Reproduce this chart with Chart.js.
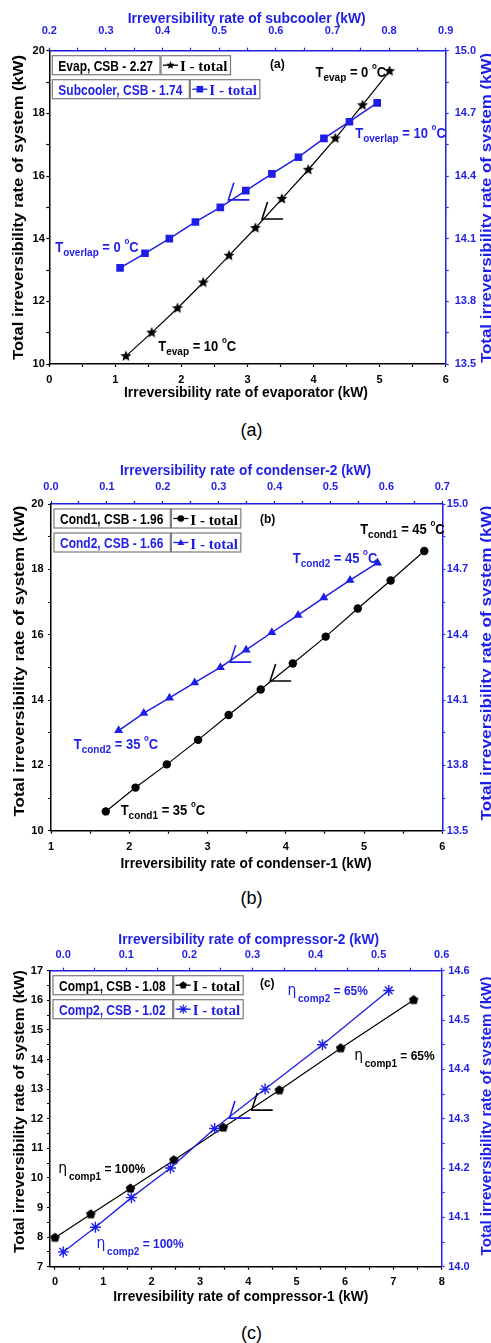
<!DOCTYPE html>
<html>
<head>
<meta charset="utf-8">
<script src="https://cdn.jsdelivr.net/npm/chart.js"></script>
<style>
body { margin: 0; background: #fff; }
#page { position: relative; width: 491px; height: 1343px; overflow: hidden; background: #fff; }
canvas { position: absolute; left: 0; }
.cap { position: absolute; left: 0; width: 503px; text-align: center; line-height: 20px;
       font: 18px 'Liberation Sans', Arial, sans-serif; color: #000; }
</style>
</head>
<body>
<div id="page">
  <canvas id="ca" width="491" height="410" style="top:0px"></canvas>
  <div class="cap" style="top:420px">(a)</div>
  <canvas id="cb" width="491" height="430" style="top:445px"></canvas>
  <div class="cap" style="top:888px">(b)</div>
  <canvas id="cc" width="491" height="410" style="top:905px"></canvas>
  <div class="cap" style="top:1323px">(c)</div>
</div>
<script>
const BLUE = '#1e1ee6';
const SANS = "'Liberation Sans', Arial, sans-serif";
const SERIF = "'Liberation Serif', 'Times New Roman', serif";
const SYM = "'DejaVu Sans', sans-serif";

// ---- (a) evaporator (bottom/left axes) and subcooler (top/right axes)
const evapX = [1.16, 1.55, 1.94, 2.33, 2.72, 3.12, 3.52, 3.92, 4.33, 4.74, 5.15];
const evapY = [10.25, 11.00, 11.78, 12.60, 13.46, 14.34, 15.27, 16.20, 17.20, 18.26, 19.35];
const subX = [0.325, 0.369, 0.412, 0.458, 0.502, 0.547, 0.593, 0.640, 0.685, 0.730, 0.779];
const subY = [13.96, 14.03, 14.10, 14.18, 14.25, 14.33, 14.41, 14.49, 14.58, 14.66, 14.75];

// ---- (b) condenser-1 and condenser-2
const cond1X = [1.70, 2.08, 2.48, 2.88, 3.27, 3.68, 4.09, 4.51, 4.92, 5.34, 5.77];
const cond1Y = [10.59, 11.32, 12.03, 12.78, 13.54, 14.32, 15.12, 15.94, 16.80, 17.66, 18.56];
const cond2X = [0.121, 0.166, 0.212, 0.257, 0.303, 0.349, 0.395, 0.442, 0.488, 0.535, 0.584];
const cond2Y = [13.96, 14.04, 14.11, 14.18, 14.25, 14.33, 14.41, 14.49, 14.57, 14.65, 14.73];

// ---- (c) compressor-1 and compressor-2
const comp1X = [0.0, 0.74, 1.56, 2.46, 3.48, 4.64, 5.91, 7.42];
const comp1Y = [7.98, 8.77, 9.64, 10.60, 11.70, 12.96, 14.38, 16.01];
const comp2X = [0.0, 0.051, 0.108, 0.170, 0.240, 0.320, 0.411, 0.516];
const comp2Y = [14.03, 14.08, 14.14, 14.20, 14.28, 14.36, 14.45, 14.56];

// labelled ticks (a minor tick sits half way between two of them)
const aBottomTicks = [0, 1, 2, 3, 4, 5, 6];
const aTopTicks = [0.2, 0.3, 0.4, 0.5, 0.6, 0.7, 0.8, 0.9];
const aLeftTicks = [10, 12, 14, 16, 18, 20];
const aRightTicks = [13.5, 13.8, 14.1, 14.4, 14.7, 15.0];
const bBottomTicks = [1, 2, 3, 4, 5, 6];
const bTopTicks = [0.0, 0.1, 0.2, 0.3, 0.4, 0.5, 0.6, 0.7];
const bLeftTicks = [10, 12, 14, 16, 18, 20];
const bRightTicks = [13.5, 13.8, 14.1, 14.4, 14.7, 15.0];
const cBottomTicks = [0, 1, 2, 3, 4, 5, 6, 7, 8];
const cTopTicks = [0.0, 0.1, 0.2, 0.3, 0.4, 0.5, 0.6];
const cLeftTicks = [7, 8, 9, 10, 11, 12, 13, 14, 15, 16, 17];
const cRightTicks = [14.0, 14.1, 14.2, 14.3, 14.4, 14.5, 14.6];

const aLegend = ['Evap, CSB - 2.27', 'Subcooler, CSB - 1.74'];
const bLegend = ['Cond1, CSB - 1.96', 'Cond2, CSB - 1.66'];
const cLegend = ['Comp1, CSB - 1.08', 'Comp2, CSB - 1.02'];
const SYS = 'Total irreversibility rate of system (kW)';

// ---------- helpers ----------
function polygon(g, x, y, r, n, inner) {
  g.beginPath();
  const k = inner ? n * 2 : n;
  for (let i = 0; i < k; i++) {
    const a = -Math.PI / 2 + i * 2 * Math.PI / k;
    const rr = inner && i % 2 ? r * inner : r;
    g.lineTo(x + rr * Math.cos(a), y + rr * Math.sin(a));
  }
  g.closePath();
}

function marker(ctx, type, x, y, color, r) {
  ctx.save();
  ctx.fillStyle = color; ctx.strokeStyle = color; ctx.lineWidth = 1.2;
  if (type === 'rect') ctx.fillRect(x - r, y - r, 2 * r, 2 * r);
  else if (type === 'circle') { ctx.beginPath(); ctx.arc(x, y, r, 0, Math.PI * 2); ctx.fill(); }
  else if (type === 'tri') { polygon(ctx, x, y + 0.5, r * 1.2, 3); ctx.fill(); }
  else if (type === 'star5') { polygon(ctx, x, y, r * 1.3, 5, 0.45); ctx.fill(); }
  else if (type === 'pent') { polygon(ctx, x, y, r * 1.2, 5); ctx.fill(); }
  else if (type === 'aster') {
    const d = r * 1.4, e = d * 0.72;
    ctx.beginPath();
    ctx.moveTo(x - d, y); ctx.lineTo(x + d, y); ctx.moveTo(x, y - d); ctx.lineTo(x, y + d);
    ctx.moveTo(x - e, y - e); ctx.lineTo(x + e, y + e); ctx.moveTo(x - e, y + e); ctx.lineTo(x + e, y - e);
    ctx.stroke();
  }
  ctx.restore();
}

function markerImage(type, r, color) {
  const c = document.createElement('canvas');
  c.width = c.height = Math.ceil(r * 2 + 4);
  marker(c.getContext('2d'), type, c.width / 2, c.height / 2, color, r / 1.25);
  return c;
}

function text(ctx, str, x, y, font, color, sx, sy, align) {
  ctx.save();
  ctx.font = font; ctx.fillStyle = color;
  ctx.textAlign = align || 'left'; ctx.textBaseline = 'alphabetic';
  ctx.translate(x, y); ctx.scale(sx, sy);
  ctx.fillText(str, 0, 0);
  ctx.restore();
}

function drawTitle(ctx, t, top) {
  ctx.save();
  ctx.font = `bold 12.5px ${SANS}`;
  const w = ctx.measureText(t.text).width;
  ctx.fillStyle = t.color; ctx.textAlign = 'center'; ctx.textBaseline = 'alphabetic';
  ctx.translate(t.x, t.y - top);
  if (t.vert) ctx.rotate(-Math.PI / 2);
  ctx.scale(t.len / w, 1.22);
  ctx.fillText(t.text, 0, 0);
  ctx.restore();
}

function drawRich(ctx, x, y, parts, color) {
  let cx = x;
  parts.forEach(([t, size, dy, weight, family]) => {
    const font = `${weight || 'bold'} ${size}px ${family || SANS}`;
    text(ctx, t, cx, y + (dy || 0), font, color, 1, 1.08);
    ctx.font = font;
    cx += ctx.measureText(t).width;
  });
}

function drawArrow(ctx, x, y, color) {
  ctx.save();
  ctx.strokeStyle = color; ctx.lineWidth = 1.6;
  ctx.beginPath();
  ctx.moveTo(x + 5.5, y - 17); ctx.lineTo(x, y); ctx.lineTo(x + 21, y);
  ctx.stroke();
  ctx.restore();
}

function drawLegend(ctx, area, rows) {
  rows.forEach((r, i) => {
    const top = area.top + 5 + i * 24, h = 19, x1 = area.left + 3;
    ctx.save();
    ctx.font = `bold 12px ${SANS}`;
    const w1 = ctx.measureText(r.label).width + 13;
    ctx.font = `bold 15px ${SERIF}`;
    const tw = ctx.measureText('I - total').width;
    const x2 = x1 + w1 + 1, w2 = tw + 22;
    ctx.fillStyle = '#fff'; ctx.strokeStyle = '#7a7a7a'; ctx.lineWidth = 1.2;
    [[x1, w1], [x2, w2]].forEach(([bx, bw]) => { ctx.fillRect(bx, top, bw, h); ctx.strokeRect(bx, top, bw, h); });
    const my = top + h / 2;
    ctx.strokeStyle = r.color; ctx.lineWidth = 1.3;
    ctx.beginPath(); ctx.moveTo(x2 + 2, my); ctx.lineTo(x2 + 17, my); ctx.stroke();
    ctx.restore();
    text(ctx, r.label, x1 + 6, top + 15, `bold 12px ${SANS}`, r.color, 1, 1.2);
    marker(ctx, r.marker, x2 + 9.5, my, r.color, 3.3);
    text(ctx, 'I - total', x2 + 19, top + 15.5, `bold 15px ${SERIF}`, r.color, 1, 1);
  });
}

const deco = {};
const decoPlugin = {
  id: 'deco',
  afterDatasetsDraw(chart) {
    const o = deco[chart.canvas.id];
    if (!o) return;
    const ctx = chart.ctx, sx = chart.scales.x, sy = chart.scales.y;
    o.titles.forEach(t => drawTitle(ctx, t, o.top));
    drawLegend(ctx, chart.chartArea, o.legend);
    o.notes.forEach(n => drawRich(ctx, sx.getPixelForValue(n.x), sy.getPixelForValue(n.y), n.parts, n.color));
    o.arrows.forEach(a => drawArrow(ctx, sx.getPixelForValue(a.x), sy.getPixelForValue(a.y), a.color));
  }
};

function withMinor(major) {
  const out = [];
  major.forEach((v, i) => {
    out.push(v);
    if (i < major.length - 1) out.push((v + major[i + 1]) / 2);
  });
  return out;
}

function axis(pos, color, min, max, major, dec, size, pad) {
  const all = withMinor(major);
  const vertical = pos === 'left' || pos === 'right';
  return {
    type: 'linear', position: pos, min, max,
    afterBuildTicks: s => { s.ticks = all.map(v => ({ value: v })); },
    afterFit: s => { if (vertical) s.width = size; else s.height = size; },
    ticks: {
      autoSkip: false, maxRotation: 0, minRotation: 0, color, padding: pad,
      font: { family: SANS, size: 11, weight: 'bold' },
      callback: v => major.some(m => Math.abs(m - v) < 1e-9) ? v.toFixed(dec) : ''
    },
    grid: { drawOnChartArea: false, drawTicks: true, tickLength: 3, tickWidth: 1.2, tickColor: color, color },
    border: { color, width: 1.5 }
  };
}

function series(xs, ys, color, xAxisID, yAxisID, style, r, lw) {
  return {
    data: xs.map((x, i) => ({ x, y: ys[i] })),
    xAxisID, yAxisID, showLine: true, tension: 0, fill: false,
    borderColor: color, borderWidth: lw,
    pointStyle: style, pointRadius: r, pointHoverRadius: r,
    pointBackgroundColor: color, pointBorderColor: color,
    pointBorderWidth: style === 'star' ? 1.4 : 0
  };
}

function panel(id, top, datasets, scales, cfg) {
  cfg.top = top;
  deco[id] = cfg;
  new Chart(document.getElementById(id), {
    type: 'scatter',
    data: { datasets },
    options: {
      responsive: false, animation: false, devicePixelRatio: 1, events: [],
      layout: { padding: 0 },
      plugins: { legend: { display: false }, tooltip: { enabled: false } },
      scales
    },
    plugins: [decoPlugin]
  });
}

const degC = (pre, sub, val) => [['T', 13], [sub, 10, 4], [' = ' + val + ' ', 13], ['o', 8, -8], ['C', 13]];
const eta = (sub, val) => [['η', 14, 0, 'normal', SYM], [' ', 6], [sub, 10, 7], [' = ' + val, 12]];

// ---------- (a) ----------
panel('ca', 0,
  [
    series(subX, subY, BLUE, 'x2', 'y2', 'rect', 5.4, 1.5),
    series(evapX, evapY, '#000', 'x', 'y', markerImage('star5', 5.6, '#000'), 4.5, 1.2)
  ],
  {
    x: axis('bottom', '#000', 0, 6, aBottomTicks, 0, 46, 6),
    x2: axis('top', BLUE, 0.2, 0.9, aTopTicks, 1, 50.7, 10),
    y: axis('left', '#000', 10, 20, aLeftTicks, 0, 49.3, 1.5),
    y2: axis('right', BLUE, 13.5, 15.0, aRightTicks, 1, 45.3, 6)
  },
  {
    titles: [
      { text: 'Irreversibility rate of subcooler (kW)', x: 246.7, y: 22.7, len: 238, color: BLUE },
      { text: 'Irreversibility rate of evaporator (kW)', x: 246, y: 397, len: 244, color: '#000' },
      { text: SYS, x: 23, y: 207.5, len: 305, color: '#000', vert: true },
      { text: SYS, x: 490.5, y: 208, len: 310, color: BLUE, vert: true }
    ],
    legend: [
      { label: aLegend[0], color: '#000', marker: 'star5' },
      { label: aLegend[1], color: BLUE, marker: 'rect' }
    ],
    notes: [
      { x: 3.34, y: 19.46, color: '#000', parts: [['(a)', 12]] },
      { x: 4.03, y: 19.16, color: '#000', parts: degC('T', 'evap', '0') },
      { x: 4.63, y: 17.21, color: BLUE, parts: degC('T', 'overlap', '10') },
      { x: 0.09, y: 13.56, color: BLUE, parts: degC('T', 'overlap', '0') },
      { x: 1.65, y: 10.42, color: '#000', parts: degC('T', 'evap', '10') }
    ],
    arrows: [
      { x: 3.22, y: 14.63, color: '#000' },
      { x: 2.71, y: 15.24, color: BLUE }
    ]
  });

// ---------- (b) ----------
panel('cb', 445,
  [
    series(cond2X, cond2Y, BLUE, 'x2', 'y2', 'triangle', 5.2, 1.5),
    series(cond1X, cond1Y, '#000', 'x', 'y', 'circle', 4.2, 1.2)
  ],
  {
    x: axis('bottom', '#000', 1, 6, bBottomTicks, 0, 44.3, 6.5),
    x2: axis('top', BLUE, 0, 0.7, bTopTicks, 1, 59, 7.5),
    y: axis('left', '#000', 10, 20, bLeftTicks, 0, 51, 4.5),
    y2: axis('right', BLUE, 13.5, 15.0, bRightTicks, 1, 48.7, 1.5)
  },
  {
    titles: [
      { text: 'Irreversibility rate of condenser-2 (kW)', x: 245.5, y: 475, len: 251, color: BLUE },
      { text: 'Irreversibility rate of condenser-1 (kW)', x: 246, y: 868, len: 251, color: '#000' },
      { text: SYS, x: 24, y: 661, len: 311, color: '#000', vert: true },
      { text: SYS, x: 490.5, y: 663, len: 315, color: BLUE, vert: true }
    ],
    legend: [
      { label: bLegend[0], color: '#000', marker: 'circle' },
      { label: bLegend[1], color: BLUE, marker: 'tri' }
    ],
    notes: [
      { x: 3.67, y: 19.41, color: '#000', parts: [['(b)', 12]] },
      { x: 4.95, y: 19.07, color: '#000', parts: degC('T', 'cond1', '45') },
      { x: 4.09, y: 18.18, color: BLUE, parts: degC('T', 'cond2', '45') },
      { x: 1.29, y: 12.49, color: BLUE, parts: degC('T', 'cond2', '35') },
      { x: 1.89, y: 10.48, color: '#000', parts: degC('T', 'cond1', '35') }
    ],
    arrows: [
      { x: 3.80, y: 14.58, color: '#000' },
      { x: 3.29, y: 15.16, color: BLUE }
    ]
  });

// ---------- (c) ----------
panel('cc', 905,
  [
    series(comp2X, comp2Y, BLUE, 'x2', 'y2', 'star', 5.5, 1.3),
    series(comp1X, comp1Y, '#000', 'x', 'y', markerImage('pent', 5.2, '#000'), 4.5, 1.2)
  ],
  {
    x: axis('bottom', '#000', -0.103, 8, cBottomTicks, 0, 48.3, 5.5),
    x2: axis('top', BLUE, -0.021, 0.6, cTopTicks, 1, 65.7, 6),
    y: axis('left', '#000', 7, 17, cLeftTicks, 0, 50, 4),
    y2: axis('right', BLUE, 14.0, 14.6, cRightTicks, 1, 49.3, 3.5)
  },
  {
    titles: [
      { text: 'Irreversibility rate of compressor-2 (kW)', x: 248.7, y: 944, len: 260.7, color: BLUE },
      { text: 'Irrevesibility rate of compressor-1 (kW)', x: 240.7, y: 1301, len: 255, color: '#000' },
      { text: SYS, x: 24, y: 1111.5, len: 283, color: '#000', vert: true },
      { text: SYS, x: 490.5, y: 1116, len: 279, color: BLUE, vert: true }
    ],
    legend: [
      { label: cLegend[0], color: '#000', marker: 'pent' },
      { label: cLegend[1], color: BLUE, marker: 'aster' }
    ],
    notes: [
      { x: 4.24, y: 16.46, color: '#000', parts: [['(c)', 12]] },
      { x: 4.81, y: 16.18, color: BLUE, parts: eta('comp2', '65%') },
      { x: 6.19, y: 13.98, color: '#000', parts: eta('comp1', '65%') },
      { x: 0.07, y: 10.16, color: '#000', parts: eta('comp1', '100%') },
      { x: 0.86, y: 7.62, color: BLUE, parts: eta('comp2', '100%') }
    ],
    arrows: [
      { x: 4.07, y: 12.29, color: '#000' },
      { x: 3.61, y: 12.02, color: BLUE }
    ]
  });
</script>
</body>
</html>
